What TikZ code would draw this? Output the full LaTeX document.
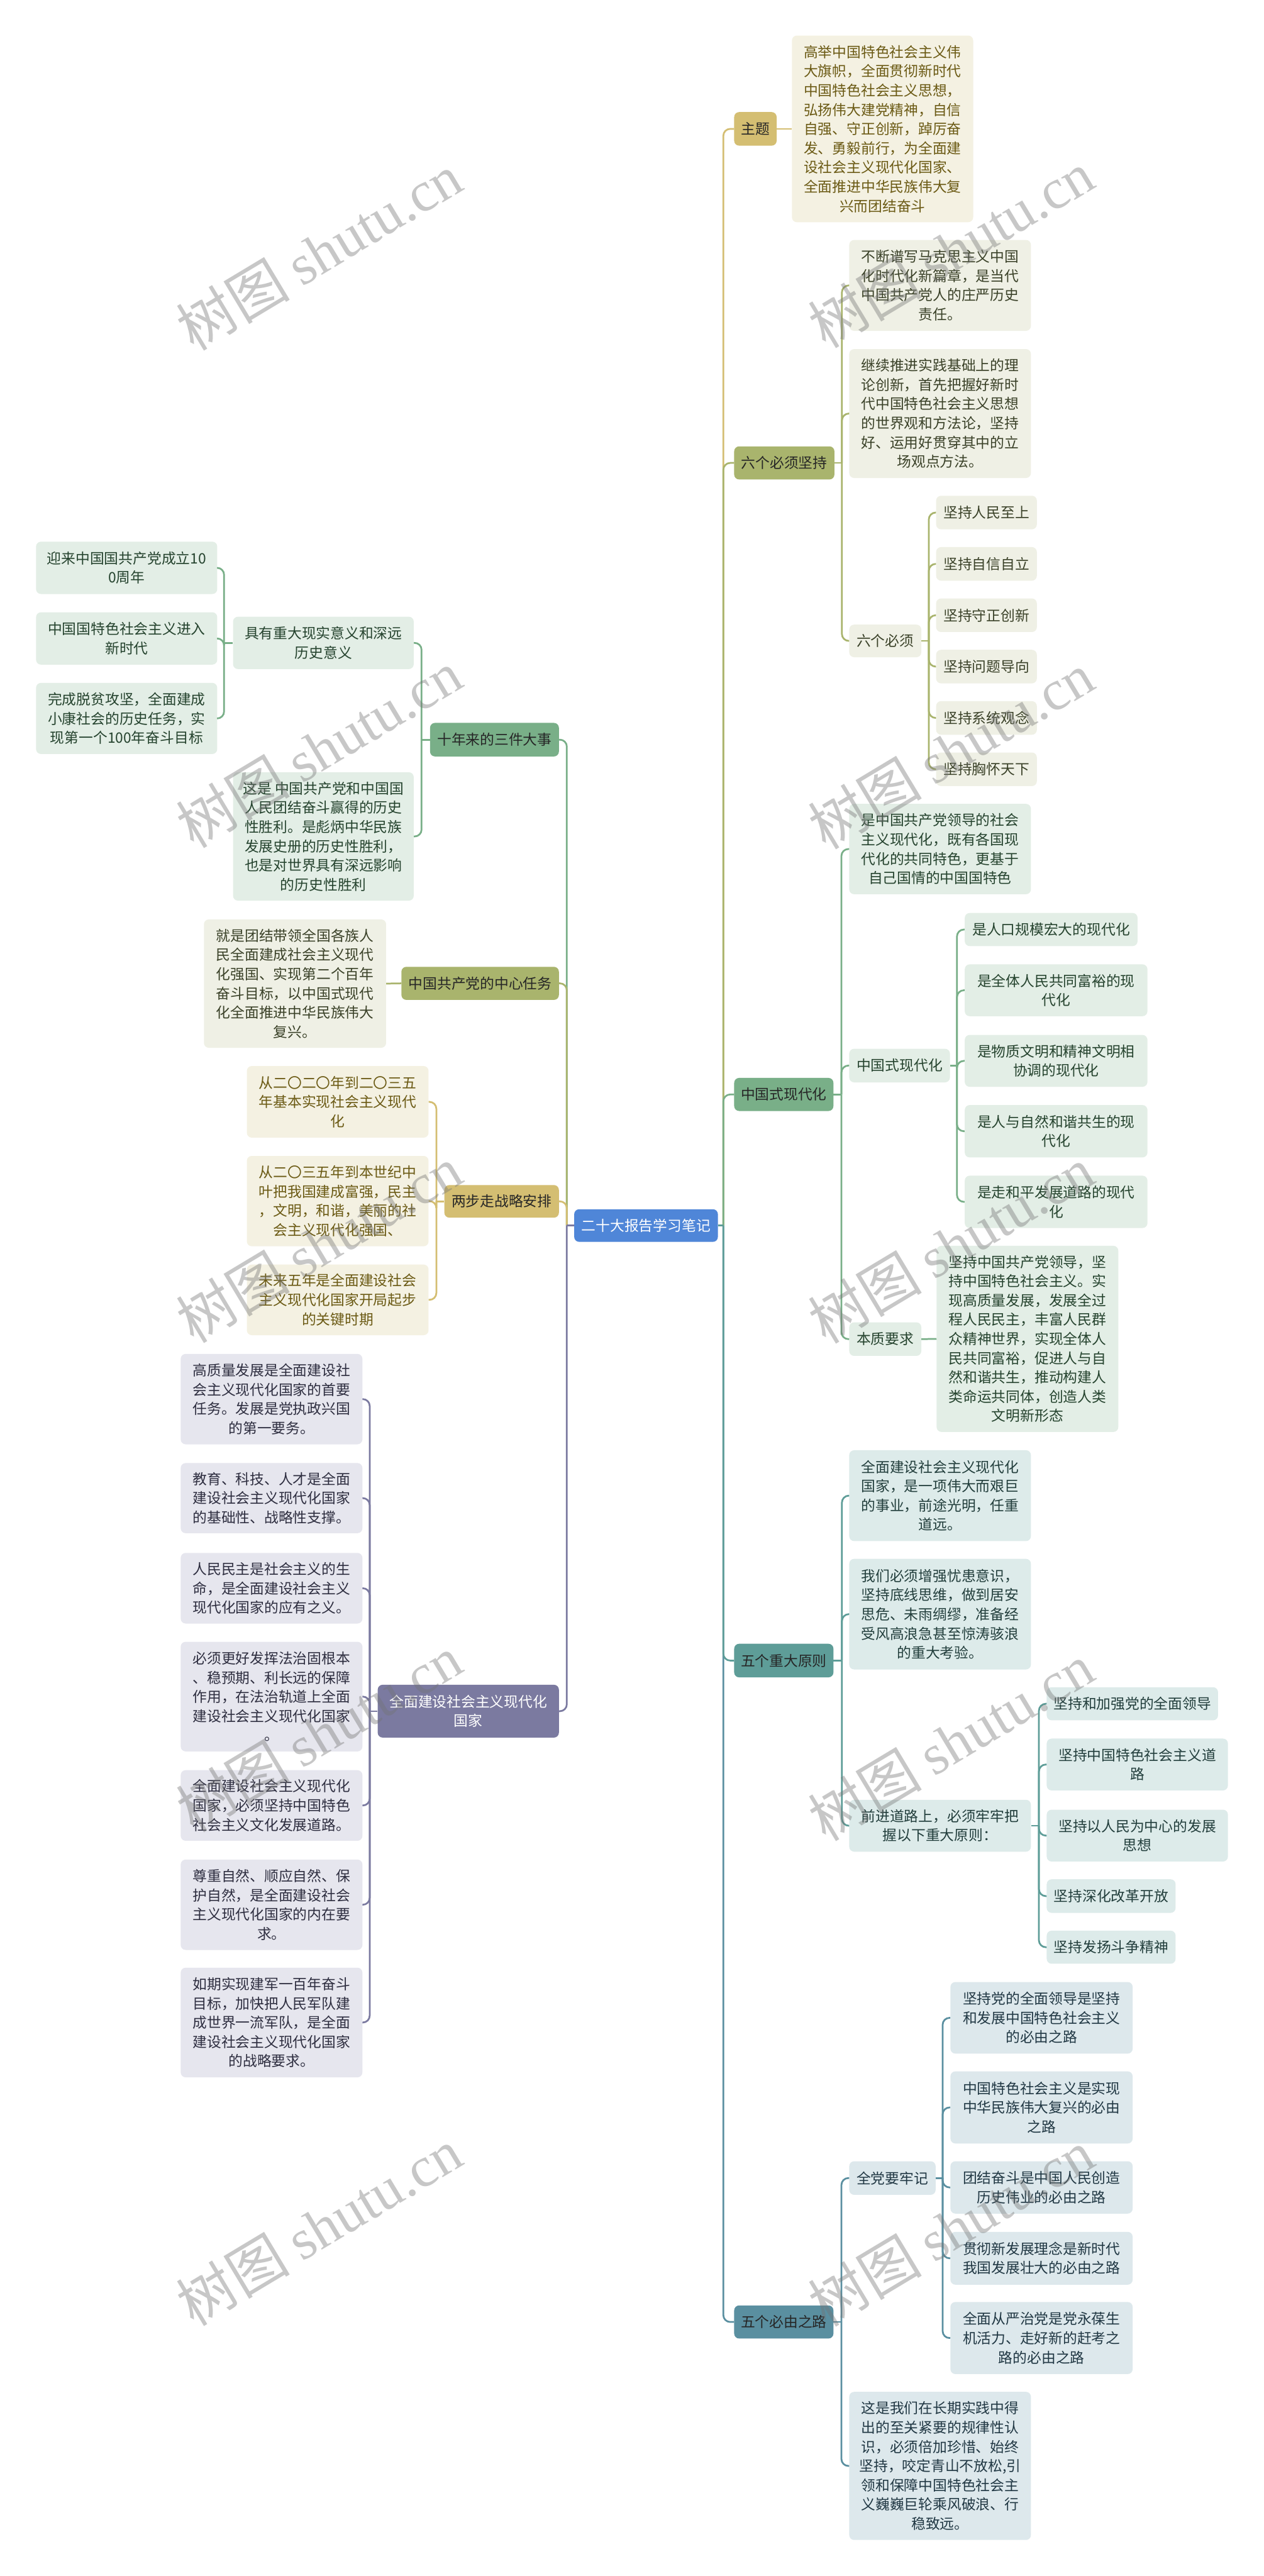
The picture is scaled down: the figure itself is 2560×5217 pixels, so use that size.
\documentclass[tikz,border=0pt]{standalone}
\usepackage{fontspec}
\setmainfont{Noto Sans CJK SC}
\newfontfamily\wmserif{Liberation Serif}
\definecolor{croot}{HTML}{4F86D8}
\definecolor{cgold}{HTML}{D4BE72}
\definecolor{cgoldL}{HTML}{F4F1E2}
\definecolor{cgoldT}{HTML}{6B5A14}
\definecolor{colive}{HTML}{A9B46D}
\definecolor{coliveL}{HTML}{EFF0E5}
\definecolor{coliveT}{HTML}{3A4128}
\definecolor{cgreen}{HTML}{79AF88}
\definecolor{cgreenL}{HTML}{E3EEE6}
\definecolor{cgreenT}{HTML}{25432E}
\definecolor{cteal}{HTML}{5E9D98}
\definecolor{ctealL}{HTML}{DDEBEA}
\definecolor{ctealT}{HTML}{223E3C}
\definecolor{csteel}{HTML}{5A8FA0}
\definecolor{csteelL}{HTML}{DDE8EC}
\definecolor{csteelT}{HTML}{213844}
\definecolor{cpurple}{HTML}{7B7AA0}
\definecolor{cpurpleL}{HTML}{E6E6EE}
\definecolor{cpurpleT}{HTML}{2E2E40}
\definecolor{cdark}{HTML}{262626}
\tikzset{
  nd/.style={rounded corners=10pt, inner sep=0pt, align=center, font=\fontsize{29}{39}\selectfont},
  rootst/.style={nd, fill=croot, text=white},
  goldN/.style={nd, fill=cgold, text=cdark},
  goldL/.style={nd, fill=cgoldL, text=cgoldT},
  oliveN/.style={nd, fill=colive, text=cdark},
  oliveL/.style={nd, fill=coliveL, text=coliveT},
  greenN/.style={nd, fill=cgreen, text=cdark},
  greenL/.style={nd, fill=cgreenL, text=cgreenT},
  tealN/.style={nd, fill=cteal, text=cdark},
  tealL/.style={nd, fill=ctealL, text=ctealT},
  steelN/.style={nd, fill=csteel, text=cdark},
  steelL/.style={nd, fill=csteelL, text=csteelT},
  purpleN/.style={nd, fill=cpurple, text=white},
  purpleL/.style={nd, fill=cpurpleL, text=cpurpleT},
  ln/.style={line width=3.5pt, rounded corners=14pt},
  wm/.style={text=black!55, opacity=0.4, inner sep=0pt, font=\fontsize{115}{115}\selectfont, rotate=31},
}
\newcommand\BX[7]{\node[#1, minimum width={#4-#3}, minimum height={#6-#5}] (#2) at ({(#3+#4)/2},{(#5+#6)/2}) {#7};}
\begin{document}
\begin{tikzpicture}[x=1pt,y=-1pt]
\fill[white] (0,0) rectangle (2560,5217);
\useasboundingbox (0,0) rectangle (2560,5217);
% root
\BX{rootst}{root}{1163}{1454}{2449}{2515}{二十大报告学习笔记}
% right level 1
\BX{goldN}{t1}{1487}{1573}{227}{295}{主题}
\BX{oliveN}{t2}{1487}{1690}{904}{971}{六个必须坚持}
\BX{greenN}{t3}{1487}{1688}{2183}{2250}{中国式现代化}
\BX{tealN}{t4}{1487}{1688}{3329}{3397}{五个重大原则}
\BX{steelN}{t5}{1487}{1688}{4669}{4736}{五个必由之路}
% left level 1
\BX{greenN}{k1}{871}{1132}{1464}{1532}{十年来的三件大事}
\BX{oliveN}{k2}{813}{1132}{1958}{2025}{中国共产党的中心任务}
\BX{goldN}{k3}{900}{1132}{2400}{2466}{两步走战略安排}
\BX{purpleN}{k4}{765}{1132}{3412}{3519}{全面建设社会主义现代化\\国家}
% 主题
\BX{goldL}{a1}{1604}{1971}{72}{450}{高举中国特色社会主义伟\\大旗帜，全面贯彻新时代\\中国特色社会主义思想，\\弘扬伟大建党精神，自信\\自强、守正创新，踔厉奋\\发、勇毅前行，为全面建\\设社会主义现代化国家、\\全面推进中华民族伟大复\\兴而团结奋斗}
% 六个必须坚持
\BX{oliveL}{b1}{1720}{2088}{486}{670}{不断谱写马克思主义中国\\化时代化新篇章，是当代\\中国共产党人的庄严历史\\责任。}
\BX{oliveL}{b2}{1720}{2088}{707}{968}{继续推进实践基础上的理\\论创新，首先把握好新时\\代中国特色社会主义思想\\的世界观和方法论，坚持\\好、运用好贯穿其中的立\\场观点方法。}
\BX{oliveL}{b3}{1720}{1866}{1265}{1331}{六个必须}
\BX{oliveL}{c1}{1896}{2100}{1004}{1072}{坚持人民至上}
\BX{oliveL}{c2}{1896}{2100}{1108}{1176}{坚持自信自立}
\BX{oliveL}{c3}{1896}{2100}{1212}{1280}{坚持守正创新}
\BX{oliveL}{c4}{1896}{2100}{1316}{1384}{坚持问题导向}
\BX{oliveL}{c5}{1896}{2100}{1420}{1488}{坚持系统观念}
\BX{oliveL}{c6}{1896}{2100}{1524}{1592}{坚持胸怀天下}
% 中国式现代化
\BX{greenL}{d1}{1720}{2088}{1628}{1811}{是中国共产党领导的社会\\主义现代化，既有各国现\\代化的共同特色，更基于\\自己国情的中国国特色}
\BX{greenL}{d2}{1720}{1924}{2124}{2192}{中国式现代化}
\BX{greenL}{e1}{1954}{2304}{1849}{1916}{是人口规模宏大的现代化}
\BX{greenL}{e2}{1954}{2324}{1953}{2058}{是全体人民共同富裕的现\\代化}
\BX{greenL}{e3}{1954}{2324}{2096}{2201}{是物质文明和精神文明相\\协调的现代化}
\BX{greenL}{e4}{1954}{2324}{2238}{2344}{是人与自然和谐共生的现\\代化}
\BX{greenL}{e5}{1954}{2324}{2381}{2487}{是走和平发展道路的现代\\化}
\BX{greenL}{d3}{1720}{1866}{2678}{2746}{本质要求}
\BX{greenL}{f1}{1897}{2265}{2523}{2900}{坚持中国共产党领导，坚\\持中国特色社会主义。实\\现高质量发展，发展全过\\程人民民主，丰富人民群\\众精神世界，实现全体人\\民共同富裕，促进人与自\\然和谐共生，推动构建人\\类命运共同体，创造人类\\文明新形态}
% 五个重大原则
\BX{tealL}{g1}{1720}{2088}{2937}{3121}{全面建设社会主义现代化\\国家，是一项伟大而艰巨\\的事业，前途光明，任重\\道远。}
\BX{tealL}{g2}{1720}{2088}{3157}{3381}{我们必须增强忧患意识，\\坚持底线思维，做到居安\\思危、未雨绸缪，准备经\\受风高浪急甚至惊涛骇浪\\的重大考验。}
\BX{tealL}{g3}{1720}{2088}{3645}{3750}{前进道路上，必须牢牢把\\握以下重大原则：}
\BX{tealL}{h1}{2120}{2467}{3417}{3484}{坚持和加强党的全面领导}
\BX{tealL}{h2}{2120}{2487}{3521}{3626}{坚持中国特色社会主义道\\路}
\BX{tealL}{h3}{2120}{2487}{3665}{3770}{坚持以人民为中心的发展\\思想}
\BX{tealL}{h4}{2120}{2381}{3806}{3874}{坚持深化改革开放}
\BX{tealL}{h5}{2120}{2381}{3910}{3977}{坚持发扬斗争精神}
% 五个必由之路
\BX{steelL}{i1}{1720}{1895}{4377}{4445}{全党要牢记}
\BX{steelL}{j1}{1925}{2294}{4014}{4159}{坚持党的全面领导是坚持\\和发展中国特色社会主义\\的必由之路}
\BX{steelL}{j2}{1925}{2294}{4195}{4341}{中国特色社会主义是实现\\中华民族伟大复兴的必由\\之路}
\BX{steelL}{j3}{1925}{2294}{4377}{4483}{团结奋斗是中国人民创造\\历史伟业的必由之路}
\BX{steelL}{j4}{1925}{2294}{4520}{4627}{贯彻新发展理念是新时代\\我国发展壮大的必由之路}
\BX{steelL}{j5}{1925}{2294}{4662}{4808}{全面从严治党是党永葆生\\机活力、走好新的赶考之\\路的必由之路}
\BX{steelL}{i2}{1720}{2088}{4844}{5144}{这是我们在长期实践中得\\出的至关紧要的规律性认\\识，必须倍加珍惜、始终\\坚持，咬定青山不放松,引\\领和保障中国特色社会主\\义巍巍巨轮乘风破浪、行\\稳致远。}
% 十年来的三件大事
\BX{greenL}{m1}{472}{838}{1249}{1355}{具有重大现实意义和深远\\历史意义}
\BX{greenL}{m2}{472}{838}{1564}{1824}{这是 中国共产党和中国国\\人民团结奋斗赢得的历史\\性胜利。是彪炳中华民族\\发展史册的历史性胜利，\\也是对世界具有深远影响\\的历史性胜利}
\BX{greenL}{n1}{73}{440}{1097}{1203}{迎来中国国共产党成立10\\0周年}
\BX{greenL}{n2}{73}{440}{1240}{1346}{中国国特色社会主义进入\\新时代}
\BX{greenL}{n3}{73}{440}{1383}{1527}{完成脱贫攻坚，全面建成\\小康社会的历史任务，实\\现第一个100年奋斗目标}
% 中心任务
\BX{oliveL}{o1}{413}{782}{1862}{2122}{就是团结带领全国各族人\\民全面建成社会主义现代\\化强国、实现第二个百年\\奋斗目标，以中国式现代\\化全面推进中华民族伟大\\复兴。}
% 两步走
\BX{goldL}{p1}{500}{868}{2159}{2304}{从二〇二〇年到二〇三五\\年基本实现社会主义现代\\化}
\BX{goldL}{p2}{500}{868}{2341}{2524}{从二〇三五年到本世纪中\\叶把我国建成富强，民主\\，文明，和谐，美丽的社\\会主义现代化强国、}
\BX{goldL}{p3}{500}{868}{2561}{2704}{未来五年是全面建设社会\\主义现代化国家开局起步\\的关键时期}
% 全面建设
\BX{purpleL}{q1}{366}{734}{2742}{2925}{高质量发展是全面建设社\\会主义现代化国家的首要\\任务。发展是党执政兴国\\的第一要务。}
\BX{purpleL}{q2}{366}{734}{2963}{3105}{教育、科技、人才是全面\\建设社会主义现代化国家\\的基础性、战略性支撑。}
\BX{purpleL}{q3}{366}{734}{3145}{3288}{人民民主是社会主义的生\\命，是全面建设社会主义\\现代化国家的应有之义。}
\BX{purpleL}{q4}{366}{734}{3325}{3547}{必须更好发挥法治固根本\\、稳预期、利长远的保障\\作用，在法治轨道上全面\\建设社会主义现代化国家\\。}
\BX{purpleL}{q5}{366}{734}{3585}{3728}{全面建设社会主义现代化\\国家，必须坚持中国特色\\社会主义文化发展道路。}
\BX{purpleL}{q6}{366}{734}{3766}{3949}{尊重自然、顺应自然、保\\护自然，是全面建设社会\\主义现代化国家的内在要\\求。}
\BX{purpleL}{q7}{366}{734}{3985}{4207}{如期实现建军一百年奋斗\\目标，加快把人民军队建\\成世界一流军队，是全面\\建设社会主义现代化国家\\的战略要求。}
% ---- connectors: root to level 1
\coordinate (rj) at (1465,2482);
\coordinate (lj) at (1148,2482);
\draw[ln, cgold] (rj) |- (t1.west);
\draw[ln, colive] (rj) |- (t2.west);
\draw[ln, cgreen] (rj) |- (t3.west);
\draw[ln, csteel] (rj) |- (t5.west);
\draw[ln, cteal] (rj) |- (t4.west);
\draw[ln, cteal] (root.east) -- (rj);
\draw[ln, cgreen] (lj) |- (k1.east);
\draw[ln, colive] (lj) |- (k2.east);
\draw[ln, cgold] (lj) |- (k3.east);
\draw[ln, cpurple] (lj) |- (k4.east);
\draw[ln, cpurple] (root.west) -- (lj);
% level 2 right
\draw[ln, cgold] (t1.east) -- (a1.west);
\path (t2.east) ++(15,0) coordinate (s2);
\draw[ln, colive] (t2.east) -- (s2);
\foreach \c in {b1,b2,b3} \draw[ln, colive] (s2) |- (\c.west);
\path (b3.east) ++(15,0) coordinate (s3);
\draw[ln, colive] (b3.east) -- (s3);
\foreach \c in {c1,c2,c3,c4,c5,c6} \draw[ln, colive] (s3) |- (\c.west);
\path (t3.east) ++(16,0) coordinate (s4);
\draw[ln, cgreen] (t3.east) -- (s4);
\foreach \c in {d1,d2,d3} \draw[ln, cgreen] (s4) |- (\c.west);
\path (d2.east) ++(14,0) coordinate (s5);
\draw[ln, cgreen] (d2.east) -- (s5);
\foreach \c in {e1,e2,e3,e4,e5} \draw[ln, cgreen] (s5) |- (\c.west);
\draw[ln, cgreen] (d3.east) -- (f1.west);
\path (t4.east) ++(17,0) coordinate (s6);
\draw[ln, cteal] (t4.east) -- (s6);
\foreach \c in {g1,g2,g3} \draw[ln, cteal] (s6) |- (\c.west);
\path (g3.east) ++(16,0) coordinate (s7);
\draw[ln, cteal] (g3.east) -- (s7);
\foreach \c in {h1,h2,h3,h4,h5} \draw[ln, cteal] (s7) |- (\c.west);
\path (t5.east) ++(16,0) coordinate (s8);
\draw[ln, csteel] (t5.east) -- (s8);
\foreach \c in {i1,i2} \draw[ln, csteel] (s8) |- (\c.west);
\path (i1.east) ++(14,0) coordinate (s9);
\draw[ln, csteel] (i1.east) -- (s9);
\foreach \c in {j1,j2,j3,j4,j5} \draw[ln, csteel] (s9) |- (\c.west);
% level 2 left
\path (k1.west) ++(-17,0) coordinate (sk1);
\draw[ln, cgreen] (k1.west) -- (sk1);
\foreach \c in {m1,m2} \draw[ln, cgreen] (sk1) |- (\c.east);
\path (m1.west) ++(-18,0) coordinate (sm1);
\draw[ln, cgreen] (m1.west) -- (sm1);
\foreach \c in {n1,n2,n3} \draw[ln, cgreen] (sm1) |- (\c.east);
\draw[ln, colive] (k2.west) -- (o1.east);
\path (k3.west) ++(-16,0) coordinate (sk3);
\draw[ln, cgold] (k3.west) -- (sk3);
\foreach \c in {p1,p2,p3} \draw[ln, cgold] (sk3) |- (\c.east);
\path (k4.west) ++(-16,0) coordinate (sk4);
\draw[ln, cpurple] (k4.west) -- (sk4);
\foreach \c in {q1,q2,q3,q4,q5,q6,q7} \draw[ln, cpurple] (sk4) |- (\c.east);
% watermarks
\foreach \n/\px/\py in {w1/646/510, w2/646/1517, w3/646/2520, w4/646/3511, w5/646/4510, w6/1926/505, w7/1926/1520, w8/1926/2521, w9/1926/3528, w10/1926/4512}
  \node[wm] (\n) at (\px,\py) {树图 {\wmserif shutu.cn}};
\end{tikzpicture}
\end{document}
